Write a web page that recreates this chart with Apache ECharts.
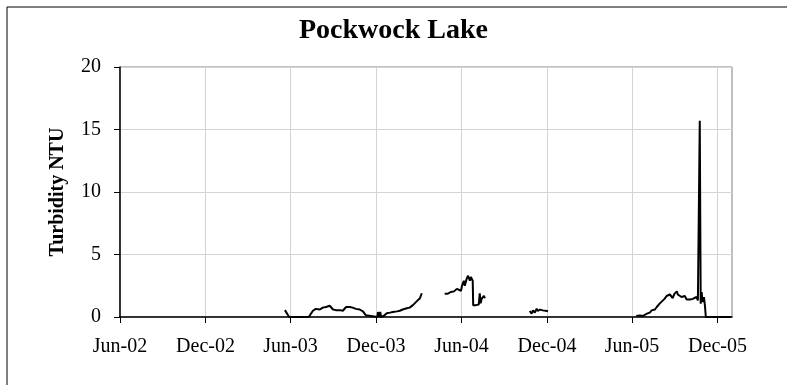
<!DOCTYPE html>
<html>
<head>
<meta charset="utf-8">
<script src="https://cdn.jsdelivr.net/npm/echarts@6/dist/echarts.min.js"></script>
<style>
html,body{margin:0;padding:0;background:#fff;}
#c{width:787px;height:385px;}
</style>
</head>
<body>
<div id="c"></div>
<script>
const titleText = 'Pockwock Lake';
const yAxisName = 'Turbidity NTU';
const tickDates = ['2002-06-01','2002-12-01','2003-06-01','2003-12-01','2004-06-01','2004-12-01','2005-06-01','2005-12-01'];
const tickLabels = ['Jun-02','Dec-02','Jun-03','Dec-03','Jun-04','Dec-04','Jun-05','Dec-05'];
const axisStart = '2002-06-01';
const axisEnd = '2006-01-01';

const dates = [
  '2003-05-20','2003-05-29','2003-07-10','2003-07-12','2003-07-19','2003-07-25','2003-08-03','2003-08-09',
  '2003-08-16','2003-08-24','2003-08-31','2003-09-06','2003-09-15','2003-09-21','2003-09-28','2003-10-06',
  '2003-10-12','2003-10-19','2003-10-27','2003-11-03','2003-11-09','2003-11-11','2003-12-04','2003-12-05',
  '2003-12-07','2003-12-09','2003-12-10','2003-12-12','2003-12-18','2003-12-24','2003-12-31','2004-01-06',
  '2004-01-15','2004-01-21','2004-01-27','2004-02-05','2004-02-11','2004-02-18','2004-02-26','2004-03-04',
  '2004-03-08','2004-04-01',
  '2004-04-26','2004-05-03','2004-05-09','2004-05-16','2004-05-22','2004-05-26','2004-05-31','2004-06-02',
  '2004-06-06','2004-06-08','2004-06-12','2004-06-15','2004-06-19','2004-06-21','2004-06-25','2004-06-26',
  '2004-07-02','2004-07-08','2004-07-10','2004-07-12','2004-07-14','2004-07-19','2004-07-21','2004-09-01',
  '2004-10-25','2004-10-29','2004-11-01','2004-11-05','2004-11-09','2004-11-11','2004-11-16','2004-11-20',
  '2004-11-22','2004-11-26','2004-12-01','2004-12-03','2005-03-01',
  '2005-06-10','2005-06-18','2005-06-24','2005-06-28','2005-07-03','2005-07-05','2005-07-09','2005-07-13',
  '2005-07-15','2005-07-20','2005-07-24','2005-07-26','2005-07-30','2005-08-04','2005-08-06','2005-08-10',
  '2005-08-14','2005-08-16','2005-08-21','2005-08-25','2005-08-27','2005-08-31','2005-09-05','2005-09-07',
  '2005-09-11','2005-09-15','2005-09-18','2005-09-22','2005-09-26','2005-09-28','2005-10-03','2005-10-07',
  '2005-10-09','2005-10-13','2005-10-17','2005-10-20','2005-10-24','2005-10-26','2005-10-28','2005-10-30',
  '2005-11-02','2005-11-04','2005-11-06','2005-12-30'
];
const turbidity = [
  0.55,0,0,0.1,0.5,0.65,0.6,0.75,
  0.8,0.9,0.6,0.55,0.55,0.5,0.8,0.8,
  0.75,0.65,0.6,0.45,0.15,0,0,0.4,
  0,0,0.4,0,0.1,0.3,0.35,0.4,
  0.45,0.5,0.6,0.7,0.75,0.95,1.25,1.5,
  1.9,null,
  1.87,1.87,2.0,2.05,2.25,2.2,2.1,2.5,
  2.9,2.5,3.05,3.3,2.9,3.2,2.9,0.95,
  0.95,1.0,1.9,1.1,1.45,1.7,1.5,null,
  0.48,0.27,0.53,0.35,0.67,0.48,0.59,0.75,
  0.53,0.59,0.48,0.45,null,
  0.08,0.13,0.08,0.19,0.27,0.4,0.35,0.53,
  0.67,0.6,0.8,0.93,1.07,1.25,1.4,1.47,
  1.68,1.52,1.8,1.68,1.52,1.87,2.05,1.8,
  1.68,1.6,1.47,1.68,1.4,1.52,1.4,1.33,
  1.45,1.4,1.6,1.33,15.7,1.07,2.0,1.2,
  1.6,0.93,0,0
];

function toTime(s){const p=s.split('-').map(Number);return Date.UTC(p[0],p[1]-1,p[2]);}
const tickTimes = tickDates.map(toTime);
const seriesData = dates.map((d,i)=>[toTime(d), turbidity[i]]);

const FONT = '"Liberation Serif","Times New Roman",serif';
const chart = echarts.init(document.getElementById('c'), null, {renderer:'canvas'});
chart.setOption({
  animation:false,
  backgroundColor:'#fff',
  title:{
    text:titleText, left:'center', top:12,
    textStyle:{fontFamily:FONT, fontSize:28, fontWeight:'bold', color:'#000'}
  },
  grid:{left:120, top:67, right:55, bottom:68, show:true, borderColor:'#808080', borderWidth:1, containLabel:false},
  xAxis:{
    type:'value', min:toTime(axisStart), max:toTime(axisEnd), scale:true,
    axisLine:{show:true, onZero:false, lineStyle:{color:'#000', width:1.5}},
    axisTick:{show:true, length:6, inside:false, customValues:tickTimes, lineStyle:{color:'#000', width:1}},
    axisLabel:{
      customValues:tickTimes, margin:20, color:'#000', fontFamily:FONT, fontSize:20,
      formatter:function(v){const i=tickTimes.indexOf(v);return i>=0?tickLabels[i]:'';}
    },
    splitLine:{show:true, lineStyle:{color:'#d4d4d4', width:1}}
  },
  yAxis:{
    type:'value', min:0, max:20, interval:5,
    name:yAxisName, nameLocation:'middle', nameGap:52, nameRotate:90,
    nameTextStyle:{fontFamily:FONT, fontSize:20, fontWeight:'bold', color:'#000'},
    axisLine:{show:true, lineStyle:{color:'#000', width:1.5}},
    axisTick:{show:true, length:6, inside:false, lineStyle:{color:'#000', width:1}},
    axisLabel:{margin:19, color:'#000', fontFamily:FONT, fontSize:20},
    splitLine:{show:true, lineStyle:{color:'#d4d4d4', width:1}}
  },
  graphic:[
    {type:'line', silent:true, shape:{x1:7, y1:7, x2:787, y2:7}, style:{stroke:'#000', lineWidth:1}},
    {type:'line', silent:true, shape:{x1:7, y1:7, x2:7, y2:385}, style:{stroke:'#000', lineWidth:1}}
  ],
  series:[{
    type:'line', data:seriesData, showSymbol:false, connectNulls:false,
    lineStyle:{color:'#000', width:2}, z:5
  }]
});
</script>
</body>
</html>
